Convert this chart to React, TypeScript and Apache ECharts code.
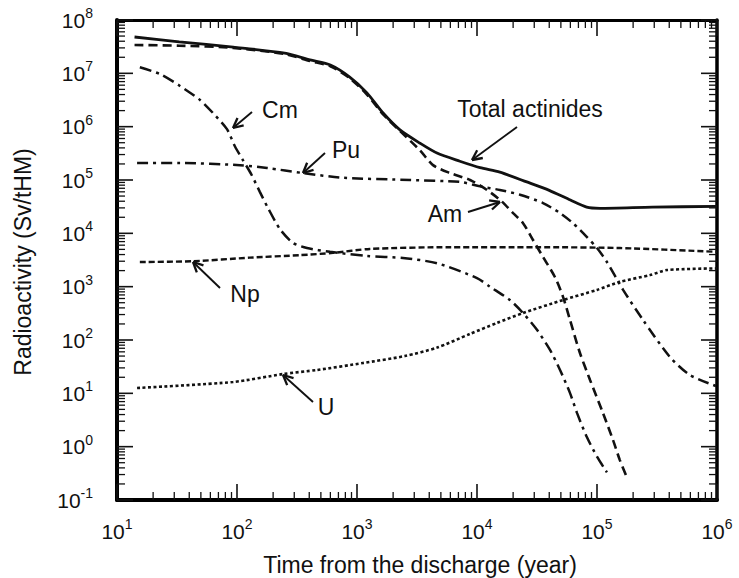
import React, { useEffect, useRef } from "react";
import * as echarts from "echarts";

// ---------- data (time in years, radioactivity in Sv/tHM) ----------
const xTickValues = [10, 100, 1000, 10000, 100000, 1000000];
const yTickValues = [0.1, 1, 10, 100, 1000, 1e4, 1e5, 1e6, 1e7, 1e8];

const totalActinides: [number, number][] = [
  [14, 4.8e7], [33, 3.9e7], [93, 3.1e7], [250, 2.4e7], [406, 1.78e7], [600, 1.43e7],
  [870, 8.5e6], [1210, 4.3e6], [1650, 1.8e6], [2280, 8.7e5], [3350, 4.9e5], [4640, 3.2e5],
  [7200, 2.25e5], [10600, 1.7e5], [15500, 1.4e5], [26000, 9.2e4], [40000, 6.4e4],
  [60000, 4.2e4], [82000, 3.1e4], [106000, 2.95e4], [290000, 3.1e4], [1000000, 3.2e4],
];
const am: [number, number][] = [
  [14, 3.4e7], [33, 3.3e7], [93, 3.0e7], [250, 2.3e7], [406, 1.7e7], [600, 1.36e7],
  [870, 8.1e6], [1210, 4.0e6], [1650, 1.7e6], [2280, 8.3e5], [3350, 3.6e5], [4300, 1.9e5],
  [5960, 1.35e5], [8750, 1.0e5], [12100, 6.5e4], [16000, 4.0e4], [20000, 2.4e4],
  [24200, 1.55e4], [29300, 7.5e3], [35500, 3.6e3], [44700, 1.5e3], [52100, 645],
  [59600, 237], [72100, 57], [87500, 17.8], [112000, 4.3], [136000, 1.33],
  [155000, 0.56], [178000, 0.26],
];
const pu: [number, number][] = [
  [14.7, 2.08e5], [33.5, 2.08e5], [106, 1.9e5], [178, 1.68e5], [355, 1.35e5], [764, 1.1e5],
  [2770, 1.0e5], [7220, 9.2e4], [10600, 7.6e4], [15500, 6.5e4], [22800, 5.3e4],
  [35500, 3.7e4], [49200, 2.4e4], [63100, 1.55e4], [82500, 8.5e3], [100000, 5.3e3],
  [121000, 2.9e3], [165000, 870], [242000, 237], [405000, 48], [596000, 22], [1000000, 13.5],
];
const cm: [number, number][] = [
  [15.5, 1.3e7], [22.8, 9.7e6], [33.5, 5.8e6], [49.2, 3.16e6], [63.1, 1.8e6], [82.5, 9.0e5],
  [96, 4.3e5], [112, 2.37e5], [131, 1.3e5], [155, 6.0e4], [181, 3.0e4], [228, 1.2e4],
  [293, 6.6e3], [383, 5.3e3], [596, 4.5e3], [1210, 3.76e3], [2415, 3.45e3], [4640, 2.75e3],
  [10000, 1.45e3], [12800, 1.0e3], [18800, 562], [24200, 320], [31600, 155], [40600, 65],
  [49200, 27.4], [59600, 10.1], [68100, 4.3], [82500, 1.5], [100000, 0.65], [121000, 0.33],
];
const np: [number, number][] = [
  [15.5, 2.9e3], [43, 3.0e3], [128, 3.5e3], [335, 3.9e3], [631, 4.3e3], [1280, 5.1e3],
  [5960, 5.5e3], [31600, 5.5e3], [155000, 5.3e3], [1000000, 4.5e3],
];
const u: [number, number][] = [
  [14.7, 12.6], [92.6, 16.3], [242, 23], [464, 27.4], [1122, 37], [2500, 50], [4640, 72],
  [8750, 130], [14700, 209], [24200, 320], [52100, 562], [100000, 870], [155000, 1230],
  [277000, 1650], [383000, 2050], [1000000, 2200],
];

const minorMultipliers = [2, 3, 4, 5, 6, 7, 8, 9];
const xDecades = [1, 2, 3, 4, 5];
const yDecades = [-1, 0, 1, 2, 3, 4, 5, 6, 7];

// ---------- annotations (pixel positions) ----------
const labels = [
  { text: "Cm", x: 280, y: 110 },
  { text: "Pu", x: 346, y: 150 },
  { text: "Total actinides", x: 530, y: 109 },
  { text: "Am", x: 445, y: 214 },
  { text: "Np", x: 245, y: 294 },
  { text: "U", x: 326, y: 407 },
];
const arrows: { tail: [number, number]; head: [number, number] }[] = [
  { tail: [252, 112], head: [233, 128] },
  { tail: [325, 153], head: [303, 173] },
  { tail: [517, 127], head: [472, 160] },
  { tail: [468, 212], head: [500, 202] },
  { tail: [220, 288], head: [193, 262] },
  { tail: [313, 402], head: [283, 375] },
];

const FONT = "'Liberation Sans', Arial, Helvetica, sans-serif";
const INK = "#111";
const TICK = "#111";
const X_MIN = 10, X_MAX = 1e6, Y_MIN = 0.1, Y_MAX = 1e8;
const GRID = { left: 117, top: 20, width: 600, height: 480 };
const MAJOR_LEN = 16;
const MINOR_LEN = 8;

function expLabel(v: number) {
  const e = Math.round(Math.log10(v));
  return `{b|10}{s|${e}}`;
}

const richLabel = {
  b: { fontSize: 21, lineHeight: 28, fontFamily: FONT, color: INK },
  s: { fontSize: 14, lineHeight: 16, verticalAlign: "top", fontFamily: FONT, color: INK },
};

function seg(x1: number, y1: number, x2: number, y2: number, w: number, color = INK) {
  return { type: "line", silent: true, z: 10, shape: { x1, y1, x2, y2 }, style: { stroke: color, lineWidth: w } };
}

function arrowGraphics(tail: [number, number], head: [number, number]) {
  const ang = Math.atan2(head[1] - tail[1], head[0] - tail[0]);
  const L = 11, spread = 0.45;
  const p1 = [head[0] - L * Math.cos(ang - spread), head[1] - L * Math.sin(ang - spread)];
  const p2 = [head[0] - L * Math.cos(ang + spread), head[1] - L * Math.sin(ang + spread)];
  return [
    seg(tail[0], tail[1], head[0], head[1], 1.9),
    seg(p1[0], p1[1], head[0], head[1], 2.3),
    seg(p2[0], p2[1], head[0], head[1], 2.3),
  ];
}

function textEl(text: string, x: number, y: number, rotation = 0) {
  return {
    type: "text", x, y, rotation, silent: true,
    style: {
      text, fontSize: 23, fontFamily: FONT, fill: INK,
      align: "center", verticalAlign: "middle", textAlign: "center", textVerticalAlign: "middle",
    },
  };
}

export default function App() {
  const ref = useRef<HTMLDivElement>(null);
  useEffect(() => {
    const chart = echarts.init(ref.current!, null, { renderer: "svg" });

    const baseAxis = {
      type: "log",
      logBase: 10,
      splitLine: { show: false },
      axisTick: { show: false },
    };

    const lineSeries = (name: string, data: [number, number][], type: any, width: number) => ({
      name,
      type: "line",
      data,
      smooth: 0.25,
      showSymbol: false,
      symbol: "none",
      silent: true,
      lineStyle: { color: INK, width, type },
      z: 3,
    });

    chart.setOption({
      animation: false,
      backgroundColor: "#fff",
      grid: { ...GRID, containLabel: false, outerBoundsMode: "none" },
      xAxis: [
        {
          ...baseAxis, position: "bottom", min: X_MIN, max: X_MAX,
          axisLine: { show: true, lineStyle: { color: "#000", width: 4 } },
          axisLabel: { formatter: expLabel, margin: 17, rich: richLabel },
        },
        {
          ...baseAxis, position: "top", min: X_MIN, max: X_MAX,
          axisLine: { show: true, lineStyle: { color: "#000", width: 3 } },
          axisLabel: { show: false },
        },
      ],
      yAxis: [
        {
          ...baseAxis, position: "left", min: Y_MIN, max: Y_MAX,
          axisLine: { show: true, lineStyle: { color: "#000", width: 4 } },
          axisLabel: { formatter: expLabel, margin: 24, rich: richLabel },
        },
        {
          ...baseAxis, position: "right", min: Y_MIN, max: Y_MAX,
          axisLine: { show: true, lineStyle: { color: "#000", width: 3.5 } },
          axisLabel: { show: false },
        },
      ],
      series: [
        lineSeries("Total actinides", totalActinides, "solid", 2.8),
        lineSeries("Am", am, [9, 5], 2.6),
        lineSeries("Pu", pu, [11, 5, 3, 5], 2.5),
        lineSeries("Cm", cm, [12, 5, 3, 5], 2.5),
        lineSeries("Np", np, [6, 3], 2.4),
        lineSeries("U", u, [3, 2.5], 2.6),
      ],
    });

    // pixel position of a value: through the chart's own scales, with a
    // geometric fallback matching the grid if the conversion is unavailable
    const fallback = (x: number, y: number) => [
      GRID.left + (GRID.width * (Math.log10(x) - Math.log10(X_MIN))) / (Math.log10(X_MAX) - Math.log10(X_MIN)),
      GRID.top + (GRID.height * (Math.log10(Y_MAX) - Math.log10(y))) / (Math.log10(Y_MAX) - Math.log10(Y_MIN)),
    ];
    const toPx = (x: number, y: number): number[] => {
      try {
        const p = chart.convertToPixel({ gridIndex: 0 } as any, [x, y]) as any;
        if (p && isFinite(p[0]) && isFinite(p[1])) return [p[0], p[1]];
      } catch (e) {
        // use fallback
      }
      return fallback(x, y);
    };

    const ticks: any[] = [];
    const addX = (v: number, len: number, w: number) => {
      const b = toPx(v, Y_MIN);
      const t = toPx(v, Y_MAX);
      ticks.push(seg(b[0], b[1], b[0], b[1] - len, w, TICK));
      ticks.push(seg(t[0], t[1], t[0], t[1] + len, w, TICK));
    };
    const addY = (v: number, len: number, w: number) => {
      const l = toPx(X_MIN, v);
      const r = toPx(X_MAX, v);
      ticks.push(seg(l[0], l[1], l[0] + len, l[1], w, TICK));
      ticks.push(seg(r[0], r[1], r[0] - len, r[1], w, TICK));
    };
    xTickValues.forEach((v) => addX(v, MAJOR_LEN, 1.6));
    yTickValues.forEach((v) => addY(v, MAJOR_LEN, 1.6));
    xDecades.forEach((k) => minorMultipliers.forEach((m) => addX(m * Math.pow(10, k), MINOR_LEN, 1.3)));
    yDecades.forEach((k) => minorMultipliers.forEach((m) => addY(m * Math.pow(10, k), MINOR_LEN, 1.3)));

    const graphics: any[] = [
      ...ticks,
      textEl("Radioactivity (Sv/tHM)", 23, 262, Math.PI / 2),
      textEl("Time from the discharge (year)", 420, 565),
      ...labels.map((l) => textEl(l.text, l.x, l.y)),
      ...arrows.flatMap((a) => arrowGraphics(a.tail, a.head)),
    ];
    chart.setOption({ graphic: graphics });

    return () => chart.dispose();
  }, []);
  return (
    <div
      ref={ref}
      style={{ position: "absolute", left: 0, top: 0, width: 739, height: 578, background: "#fff" }}
    />
  );
}
